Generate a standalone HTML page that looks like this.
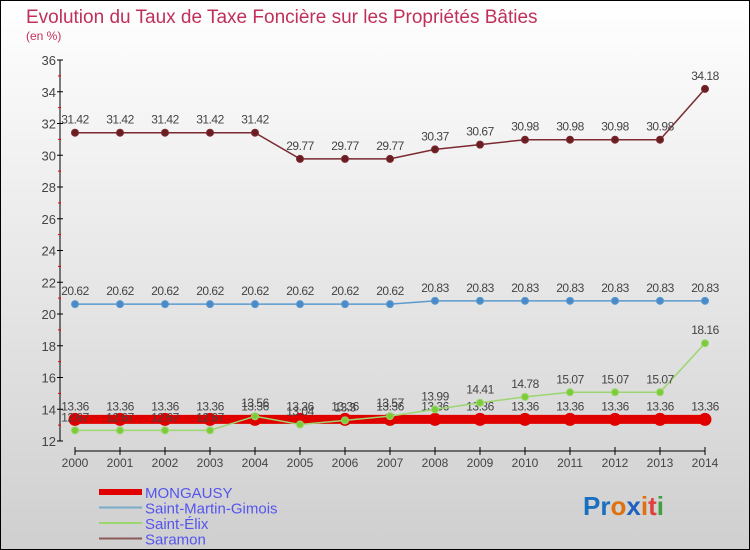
<!DOCTYPE html>
<html><head><meta charset="utf-8"><style>
body{margin:0}
#c{width:750px;height:550px;position:relative;overflow:hidden;box-sizing:border-box;border:1px solid #000;background:linear-gradient(#ffffff,#cfcfcf);font-family:"Liberation Sans",sans-serif}
</style></head><body>
<div id="c">
<svg id="s" width="750" height="550" style="position:absolute;left:-1px;top:-1px">
<text x="26" y="23" font-size="19" fill="#c0305a">Evolution du Taux de Taxe Foncière sur les Propriétés Bâties</text>
<text x="26" y="40" font-size="12" fill="#c0305a">(en %)</text>
</svg>
</div>
<script>
const years=[2000,2001,2002,2003,2004,2005,2006,2007,2008,2009,2010,2011,2012,2013,2014];
const mongausy=[13.36,13.36,13.36,13.36,13.36,13.36,13.36,13.36,13.36,13.36,13.36,13.36,13.36,13.36,13.36];
const smg=[20.62,20.62,20.62,20.62,20.62,20.62,20.62,20.62,20.83,20.83,20.83,20.83,20.83,20.83,20.83];
const elix=[12.67,12.67,12.67,12.67,13.56,13.04,13.3,13.57,13.99,14.41,14.78,15.07,15.07,15.07,18.16];
const saramon=[31.42,31.42,31.42,31.42,31.42,29.77,29.77,29.77,30.37,30.67,30.98,30.98,30.98,30.98,34.18];
const yTicks=[12,14,16,18,20,22,24,26,28,30,32,34,36];
const NS="http://www.w3.org/2000/svg";
const s=document.getElementById('s');
const X=i=>75+i*45;
const Y=v=>441-(v-12)*15.875;
function mk(t,a,p){const e=document.createElementNS(NS,t);for(const k in a)e.setAttribute(k,a[k]);(p||s).appendChild(e);return e;}
// axes
let ax=mk('line',{x1:60,y1:Y(36),x2:60,y2:Y(12),stroke:'#000'});


let xa=mk('line',{x1:X(0),y1:451,x2:X(14),y2:451,stroke:'#000'});


yTicks.forEach((v,i)=>{
 mk('line',{x1:57,y1:Y(v),x2:63,y2:Y(v),stroke:'#000'});
 if(i<yTicks.length-1)mk('line',{x1:58,y1:Y(v+1),x2:61,y2:Y(v+1),stroke:'#e00'});
 const t=mk('text',{x:56,y:Y(v)+5,'font-size':13,fill:'#444','text-anchor':'end'});t.textContent=v;
 
 
});
years.forEach((y,i)=>{
 mk('line',{x1:X(i),y1:447,x2:X(i),y2:455,stroke:'#000'});
 const t=mk('text',{x:X(i),y:467,'font-size':12,fill:'#444','text-anchor':'middle'});t.textContent=y;
 
 
});
function series(vals,col,w,r,fill,name){
 const g=mk('g',{});
 
 
 mk('polyline',{points:vals.map((v,i)=>X(i)+','+Y(v)).join(' '),fill:'none',stroke:col,'stroke-width':w},g);
 vals.forEach((v,i)=>{const c=mk('circle',{cx:X(i),cy:Y(v),r:r,fill:fill,stroke:col,'stroke-width':1},g);
  
  });
 vals.forEach((v,i)=>{const t=mk('text',{x:X(i),y:Y(v)-9,'font-size':12,fill:'#444','text-anchor':'middle','letter-spacing':'-0.5'},g);t.textContent=v.toFixed(2).replace(/0$/,'').replace(/\.$/,'');
  
  });
}
series(saramon,'#7a2a30',1.5,3.5,'#6a1e24','saramon-series');
series(smg,'#5a9acd',1.5,3.5,'#4a8ac8','saint-martin-gimois-series');
series(mongausy,'#e00000',9,6,'#e00000','mongausy-series');
series(elix,'#9bd66e',1.5,3.5,'#7ccc3a','saint-elix-series');
const leg=[['MONGAUSY','#e00000',6],['Saint-Martin-Gimois','#7aaccc',2],['Saint-Élix','#9bd66e',2],['Saramon','#8a5a5a',2]];
leg.forEach((l,i)=>{const y=492+i*15.5;
 const g=mk('g',{});
 
 
 mk('line',{x1:99,y1:y,x2:142,y2:y,stroke:l[1],'stroke-width':l[2]},g);
 const t=mk('text',{x:145,y:y+6,'font-size':15,fill:'#5555ee'},g);t.textContent=l[0];
});
const lg=mk('text',{x:583,y:515,'font-size':26,'font-weight':'bold'});


[['P','#1a70c0'],['r','#1a70c0'],['o','#e07010'],['x','#2060c0'],['i','#e07010'],['t','#e04040'],['i','#40a040']].forEach(p=>{const ts=mk('tspan',{fill:p[1]},lg);ts.textContent=p[0];});
</script>
</body></html>
